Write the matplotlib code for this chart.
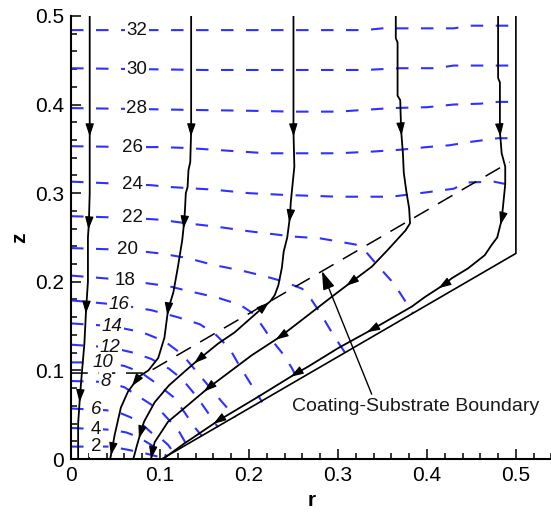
import matplotlib

matplotlib.use("Agg")
import matplotlib.pyplot as plt  # noqa: E402
import numpy as np  # noqa: E402
from matplotlib.patches import FancyArrowPatch  # noqa: E402

plt.rcParams["font.family"] = ["Liberation Sans", "DejaVu Sans"]

BLUE = "#3030ff"

# axis ticks
X_TICKS = [0.0, 0.1, 0.2, 0.3, 0.4, 0.5]
X_TICK_LABELS = ["0", "0.1", "0.2", "0.3", "0.4", "0.5"]
Y_TICKS = [0.0, 0.1, 0.2, 0.3, 0.4, 0.5]
Y_TICK_LABELS = ["0", "0.1", "0.2", "0.3", "0.4", "0.5"]

# substrate outline (solid) and coating/substrate interface (dashed)
substrate_r = [0.102, 0.5, 0.5]
substrate_z = [0.0, 0.232, 0.5]
interface_r = [0.0, 0.085, 0.493]
interface_z = [0.097, 0.097, 0.335]

# streamlines, traced from the top (r, z)
s1 = [(0.021, 0.5), (0.021, 0.37), (0.021, 0.3), (0.020, 0.265), (0.019, 0.25),
      (0.019, 0.2), (0.017, 0.17), (0.015, 0.13), (0.012, 0.095), (0.010, 0.07),
      (0.008, 0.04), (0.008, 0.0)]
s2 = [(0.135, 0.5), (0.135, 0.37), (0.134, 0.335), (0.132, 0.326), (0.131, 0.307),
      (0.129, 0.3), (0.128, 0.28), (0.127, 0.266), (0.125, 0.247), (0.12, 0.216),
      (0.115, 0.188), (0.109, 0.168), (0.105, 0.137), (0.098, 0.114), (0.087, 0.1),
      (0.078, 0.094), (0.072, 0.087), (0.064, 0.076), (0.056, 0.058), (0.049, 0.027),
      (0.046, 0.01), (0.044, 0.0)]
s3 = [(0.25, 0.5), (0.25, 0.37), (0.251, 0.33), (0.249, 0.31), (0.247, 0.29),
      (0.246, 0.273), (0.243, 0.25), (0.239, 0.234), (0.237, 0.216), (0.233, 0.196),
      (0.229, 0.185), (0.224, 0.178), (0.218, 0.173), (0.21, 0.166), (0.184, 0.143),
      (0.165, 0.13), (0.143, 0.112), (0.128, 0.099), (0.11, 0.083), (0.094, 0.064),
      (0.082, 0.042), (0.078, 0.029), (0.074, 0.015), (0.07, 0.0)]
s4 = [(0.365, 0.5), (0.365, 0.475), (0.367, 0.47), (0.367, 0.41), (0.37, 0.405),
      (0.371, 0.371), (0.373, 0.345), (0.374, 0.323), (0.377, 0.301), (0.380, 0.283),
      (0.381, 0.266), (0.376, 0.258), (0.366, 0.247), (0.356, 0.236), (0.338, 0.217),
      (0.314, 0.199), (0.293, 0.183), (0.266, 0.162), (0.235, 0.138), (0.203, 0.117),
      (0.154, 0.08), (0.128, 0.058), (0.109, 0.042), (0.094, 0.019), (0.091, 0.006),
      (0.09, 0.0)]
s5 = [(0.48, 0.5), (0.48, 0.43), (0.482, 0.425), (0.482, 0.37), (0.484, 0.345),
      (0.488, 0.33), (0.488, 0.31), (0.486, 0.29), (0.484, 0.27), (0.479, 0.25),
      (0.473, 0.242), (0.465, 0.23), (0.446, 0.215), (0.428, 0.204), (0.418, 0.196),
      (0.398, 0.183), (0.383, 0.172), (0.338, 0.146), (0.3, 0.125), (0.266, 0.104),
      (0.252, 0.096), (0.21, 0.07), (0.165, 0.043), (0.137, 0.024), (0.128, 0.018),
      (0.106, 0.002)]

# arrowheads: (vertex index, +1 along the trace / -1 against it)
s1_heads = [(1, 1), (3, 1), (6, 1), (9, 1)]
s2_heads = [(1, 1), (7, 1), (11, 1), (16, 1), (20, 1)]
s3_heads = [(1, 1), (5, 1), (12, -1), (16, 1), (21, 1)]
s4_heads = [(5, 1), (15, 1), (18, 1), (20, 1), (24, 1)]
s5_heads = [(3, 1), (8, 1), (14, 1), (17, 1), (20, 1), (22, 1)]

# iso-lines (r, z)
c02 = [(0.0, 0.014), (0.045, 0.014), (0.066, 0.01), (0.085, 0.006), (0.1, 0.002), (0.103, 0.0)]
c04 = [(0.0, 0.035), (0.045, 0.033), (0.062, 0.03), (0.075, 0.025), (0.09, 0.016),
       (0.1, 0.009), (0.108, 0.003)]
c06 = [(0.0, 0.057), (0.04, 0.055), (0.055, 0.052), (0.067, 0.047), (0.08, 0.039),
       (0.09, 0.03), (0.1, 0.024), (0.109, 0.016), (0.115, 0.008)]
c08 = [(0.0, 0.088), (0.039, 0.087), (0.06, 0.081), (0.08, 0.068), (0.1, 0.055),
       (0.112, 0.042), (0.122, 0.03), (0.13, 0.016)]
c10 = [(0.0, 0.109), (0.036, 0.109), (0.06, 0.105), (0.078, 0.098), (0.095, 0.086),
       (0.115, 0.07), (0.128, 0.052), (0.138, 0.037), (0.147, 0.026)]
c12 = [(0.0, 0.129), (0.044, 0.126), (0.07, 0.12), (0.09, 0.113), (0.11, 0.102),
       (0.125, 0.09), (0.14, 0.072), (0.152, 0.055), (0.165, 0.036)]
c14 = [(0.0, 0.153), (0.046, 0.15), (0.08, 0.143), (0.105, 0.133), (0.125, 0.118),
       (0.14, 0.1), (0.155, 0.082), (0.17, 0.064), (0.185, 0.047)]
c16 = [(0.0, 0.179), (0.054, 0.174), (0.09, 0.168), (0.12, 0.16), (0.145, 0.152),
       (0.163, 0.14), (0.178, 0.125), (0.19, 0.104), (0.2, 0.088), (0.215, 0.064)]
c18 = [(0.0, 0.207), (0.061, 0.202), (0.08, 0.199), (0.11, 0.195), (0.13, 0.19),
       (0.165, 0.182), (0.19, 0.174), (0.205, 0.164), (0.215, 0.15), (0.225, 0.135),
       (0.237, 0.12), (0.248, 0.103), (0.255, 0.089)]
c20 = [(0.0, 0.238), (0.064, 0.236), (0.1, 0.232), (0.13, 0.227), (0.16, 0.219),
       (0.19, 0.213), (0.215, 0.207), (0.24, 0.2), (0.26, 0.192), (0.27, 0.18),
       (0.28, 0.165), (0.29, 0.148), (0.3, 0.132), (0.308, 0.12)]
c22 = [(0.0, 0.274), (0.069, 0.272), (0.1, 0.27), (0.13, 0.266), (0.165, 0.262),
       (0.2, 0.257), (0.25, 0.251), (0.28, 0.249), (0.32, 0.242), (0.333, 0.232),
       (0.344, 0.219), (0.361, 0.2), (0.37, 0.187), (0.384, 0.165)]
c24 = [(0.0, 0.313), (0.069, 0.31), (0.09, 0.309), (0.11, 0.307), (0.16, 0.304),
       (0.2, 0.3), (0.24, 0.298), (0.3, 0.296), (0.36, 0.296), (0.4, 0.301),
       (0.43, 0.305), (0.445, 0.312), (0.475, 0.313), (0.49, 0.31), (0.5, 0.307)]
c26 = [(0.0, 0.353), (0.069, 0.352), (0.1, 0.352), (0.13, 0.351), (0.16, 0.349),
       (0.19, 0.347), (0.22, 0.345), (0.3, 0.345), (0.34, 0.347), (0.37, 0.349),
       (0.4, 0.352), (0.425, 0.354), (0.45, 0.358), (0.48, 0.362), (0.5, 0.362)]
c28 = [(0.0, 0.396), (0.074, 0.395), (0.13, 0.394), (0.2, 0.393), (0.25, 0.392),
       (0.3, 0.392), (0.33, 0.394), (0.36, 0.396), (0.4, 0.397), (0.43, 0.4),
       (0.46, 0.401), (0.48, 0.403), (0.5, 0.403)]
c30 = [(0.0, 0.441), (0.074, 0.44), (0.15, 0.439), (0.33, 0.439), (0.37, 0.441),
       (0.41, 0.441), (0.43, 0.444), (0.5, 0.444)]
c32 = [(0.0, 0.484), (0.074, 0.484), (0.33, 0.484), (0.35, 0.486), (0.43, 0.486),
       (0.45, 0.489), (0.5, 0.489)]

LEVELS = [2, 4, 6, 8, 10, 12, 14, 16, 18, 20, 22, 24, 26, 28, 30, 32]
ISO_LINES = [c02, c04, c06, c08, c10, c12, c14, c16, c18, c20, c22, c24, c26, c28, c30, c32]
LABEL_R = [0.028, 0.028, 0.028, 0.039, 0.036, 0.044, 0.046, 0.054, 0.061, 0.064,
           0.069, 0.069, 0.069, 0.074, 0.074, 0.074]
SLANTED = [6, 8, 10, 12, 14, 16]


def head(ax, pts, i, sign):
    p = np.asarray(pts[i], float)
    q = np.asarray(pts[i + 1], float)
    d = (q - p) / np.hypot(*(q - p)) * sign
    ax.add_patch(FancyArrowPatch(p - d * 0.006, p + d * 0.006,
                 arrowstyle="-|>,head_length=0.6,head_width=0.2", mutation_scale=13,
                 color="black", lw=0.8, shrinkA=0, shrinkB=0, zorder=5))


fig = plt.figure(figsize=(5.51, 5.14), dpi=100)
ax = fig.add_axes([0.1289, 0.107, 0.872, 0.862])
ax.set_xlim(0, 0.54)
ax.set_ylim(0, 0.5)

# iso-lines; a white box under each label cuts the line, the digits go on top of all boxes
for lev, line, lr in zip(LEVELS, ISO_LINES, LABEL_R):
    r, z = np.array(line).T
    ax.plot(r, z, color=BLUE, lw=1.5, ls=(0, (6, 6)), zorder=2)
    zl = np.interp(lr, r, z)
    style = "italic" if lev in SLANTED else "normal"
    ax.text(lr, zl, str(lev), ha="center", va="center", fontsize=13.5, fontstyle=style,
            color="none", zorder=2.15,
            bbox=dict(boxstyle="square,pad=0.08", fc="white", ec="none"))
    ax.text(lr, zl, str(lev), ha="center", va="center", fontsize=13.5, fontstyle=style,
            color="#111111", zorder=2.3)

# interface sits under the labels, streamlines and substrate above them
ax.plot(interface_r, interface_z, color="black", lw=1.1, ls=(0, (11, 7)), zorder=2.1)

for pts, heads in zip([s1, s2, s3, s4, s5], [s1_heads, s2_heads, s3_heads, s4_heads, s5_heads]):
    r, z = np.array(pts).T
    ax.plot(r, z, color="black", lw=1.3, zorder=4, solid_joinstyle="round")
    for i, sgn in heads:
        head(ax, pts, i, sgn)

ax.plot(substrate_r, substrate_z, color="black", lw=1.2, zorder=4)

ax.annotate("Coating-Substrate Boundary", xy=(0.282, 0.212), xytext=(0.387, 0.059),
            ha="center", va="center", fontsize=14, color="#1a1a1a", zorder=6,
            arrowprops=dict(arrowstyle="-|>,head_length=0.8,head_width=0.26", mutation_scale=14,
                            color="black", lw=1.0, relpos=(0.33, 1.0), shrinkA=1, shrinkB=0))

ax.set_xticks(X_TICKS)
ax.set_xticklabels(X_TICK_LABELS)
ax.set_yticks(Y_TICKS)
ax.set_yticklabels(Y_TICK_LABELS)
ax.set_xticks(np.arange(0, 0.541, 0.02), minor=True)
ax.set_yticks(np.arange(0, 0.501, 0.02), minor=True)
ax.tick_params(which="both", direction="in", top=False, right=False, width=1.1, labelsize=15)
ax.tick_params(which="major", length=7.5)
ax.tick_params(which="minor", length=4.5)
ax.tick_params(axis="x", pad=5)
ax.tick_params(axis="y", pad=5)
for side in ("top", "right"):
    ax.spines[side].set_visible(False)
for side in ("left", "bottom"):
    ax.spines[side].set_linewidth(1.5)

ax.set_xlabel("r", fontsize=15, fontweight="bold", labelpad=4)
ax.set_ylabel("z", fontsize=15, fontweight="bold", labelpad=4)

fig.savefig("out.png", dpi=100, facecolor="white")
